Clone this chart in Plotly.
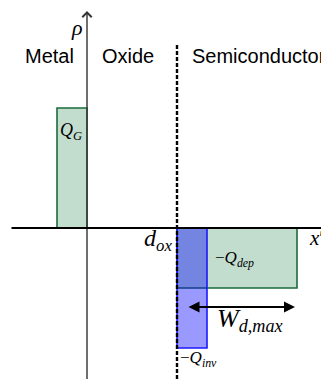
import plotly.graph_objects as go

# ---- data ----
regions = ["Metal", "Oxide", "Semiconductor"]
charge_names = ["Q_G", "-Q_dep", "-Q_inv"]
x_start = [-1.0, 3.0, 3.0]     # charge sheet start (x)
x_end = [0.0, 7.0, 4.0]        # charge sheet end (x)
rho = [4.0, -2.0, -4.0]        # charge density
d_ox = 3.0
W_dmax = 4.0

# ---- geometry helpers (page pixel -> data, page has 8px body margin) ----
OFF = 8.0
PX = 30.0
X0, Y0 = 87.0, 228.0
W, H = 329, 379
def px2x(p): return (p - X0) / PX
def px2y(p): return (Y0 - p) / PX

fill_cols = ["rgba(194,220,205,1)", "rgba(194,220,205,1)", "rgba(0,0,255,0.4)"]
line_cols = ["#1d6b3b", "#1d6b3b", "#1a1aff"]

fig = go.Figure()
for i in range(3):
    fig.add_trace(go.Bar(
        x=[(x_start[i] + x_end[i]) / 2], y=[rho[i]], width=[x_end[i] - x_start[i]],
        base=[0], marker=dict(color=fill_cols[i], line=dict(color=line_cols[i], width=1.6)),
        showlegend=False, hoverinfo="skip"))

# dashed oxide/semiconductor interface
fig.add_shape(type="line", x0=d_ox, x1=d_ox, y0=px2y(45), y1=px2y(390),
              line=dict(color="black", width=2.4, dash="4px,2px"), layer="above")

ann = []
# y axis (rho) with open arrow
ann.append(dict(x=0, y=px2y(11), ax=0, ay=px2y(390), xref="x", yref="y", axref="x", ayref="y",
                showarrow=True, arrowhead=4, arrowsize=1.3, arrowwidth=1.4, arrowcolor="#333333", text=""))
# x axis
ann.append(dict(x=px2x(331), y=0, ax=px2x(10), ay=0, xref="x", yref="y", axref="x", ayref="y",
                showarrow=True, arrowhead=4, arrowsize=1.0, arrowwidth=2.2, arrowcolor="black", text=""))
# W_dmax double arrow
ann.append(dict(x=d_ox + W_dmax - 2 / PX, y=px2y(307), ax=px2x(187), ay=px2y(307),
                xref="x", yref="y", axref="x", ayref="y", showarrow=True,
                arrowhead=2, startarrowhead=2, arrowside="end+start", arrowsize=1.1,
                startarrowsize=1.1, arrowwidth=2, arrowcolor="black", text=""))

sans = "Liberation Sans"
serif = "Liberation Serif"
def txt(s, px, py, size, family, xanchor="center"):
    ann.append(dict(x=px2x(px), y=px2y(py), xref="x", yref="y", text=s, showarrow=False,
                    font=dict(family=family, size=size, color="black"),
                    xanchor=xanchor, yanchor="middle"))

txt(regions[0], 49, 56, 20, sans)
txt(regions[1], 128, 56, 20, sans)
txt(regions[2], 190, 56, 20, sans, xanchor="left")
txt("<i>ρ</i>", 77, 27, 22, serif)
txt("<i>Q</i><sub><i>G</i></sub>", 71, 131, 18, serif)
txt("<i>d</i><sub><i>ox</i></sub>", 158, 240, 24, serif)
txt("<i>x</i>′", 326, 238, 21, serif, xanchor="right")
txt("−<i>Q</i><sub><i>dep</i></sub>", 234, 259, 17, serif)
txt("<i>W</i><sub><i>d,max</i></sub>", 250, 320, 26, serif)
txt("−<i>Q</i><sub><i>inv</i></sub>", 198, 359, 17, serif)

fig.update_layout(
    width=W, height=H, margin=dict(l=0, r=0, t=0, b=0),
    paper_bgcolor="white", plot_bgcolor="white", barmode="overlay",
    xaxis=dict(range=[px2x(OFF), px2x(W + OFF)], visible=False, fixedrange=True),
    yaxis=dict(range=[px2y(H + OFF), px2y(OFF)], visible=False, fixedrange=True),
    annotations=ann, showlegend=False,
)
fig.write_html("out.html")
